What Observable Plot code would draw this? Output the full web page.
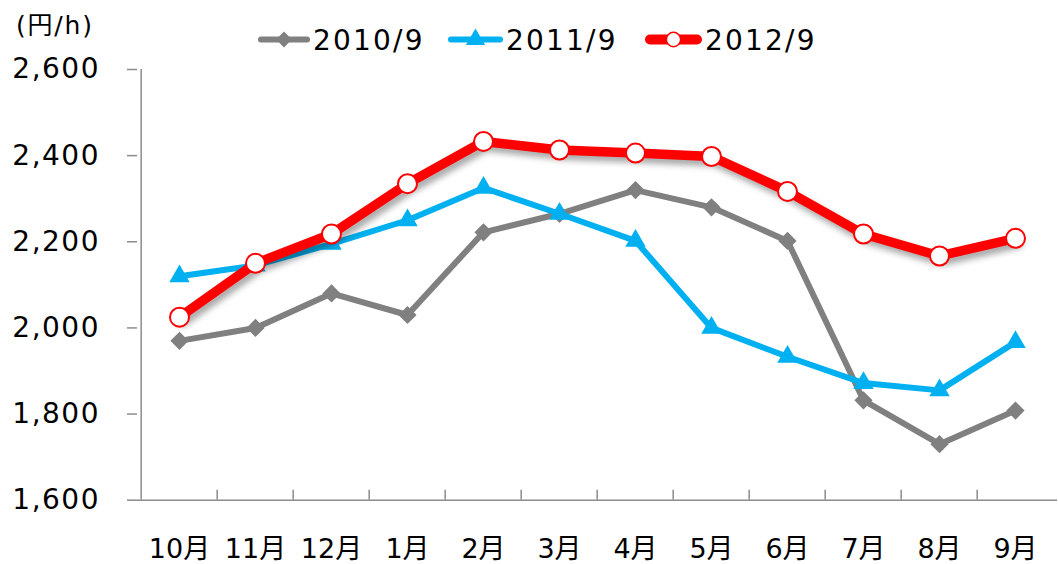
<!DOCTYPE html>
<html><head><meta charset="utf-8">
<script src="https://cdn.jsdelivr.net/npm/d3@7"></script>
<script src="https://cdn.jsdelivr.net/npm/@observablehq/plot@0.6"></script>
<style>
body{margin:0;background:#fff;font-family:"DejaVu Sans","Noto Sans CJK JP",sans-serif;}
#chart svg{display:block;}
</style>
</head><body><div id="chart"></div>
<script>
const months = ["10月","11月","12月","1月","2月","3月","4月","5月","6月","7月","8月","9月"];
const s2010 = [1970,2000,2080,2030,2222,2265,2320,2280,2202,1832,1730,1808];
const s2011 = [2120,2145,2195,2250,2325,2265,2202,2000,1933,1872,1855,1967];
const s2012 = [2025,2150,2218,2335,2433,2413,2406,2398,2317,2218,2167,2208];
const seriesNames = ["2010/9","2011/9","2012/9"];
const yTicks = [1600,1800,2000,2200,2400,2600];
const unitLabel = "(円/h)";

const FONT = '"DejaVu Sans","Noto Sans CJK JP",sans-serif';
const colors = ["#808080","#00B0F0","#FF0000"];
const HEADER = 58;
const W = 1058, H = 564 - HEADER, ML = 137, MR = 1, MT = 69 - HEADER, MB = H - (499.7 - HEADER);
const bw = (W - ML - MR) / months.length;
const rows = (vals, name) => months.map((m, i) => ({month: m, value: vals[i], series: name}));
const d10 = rows(s2010, seriesNames[0]);
const d11 = rows(s2011, seriesNames[1]);
const d12 = rows(s2012, seriesNames[2]);

// Header: unit label + legend
const header = d3.create("svg").attr("width", W).attr("height", HEADER)
  .style("font-family", FONT).style("display", "block");
header.append("text").attr("x", 16).attr("y", 34).attr("font-size", 25)
  .attr("letter-spacing", 1.8).text(unitLabel);
const legendItems = [
  {x0: 258, x1: 310, tx: 313, sw: 6, sym: d3.symbolDiamond2, size: 160, fill: colors[0], stroke: "none"},
  {x0: 448, x1: 503, tx: 506, sw: 6, sym: d3.symbolTriangle, size: 160, fill: colors[1], stroke: "none"},
  {x0: 645, x1: 702, tx: 705, sw: 10, sym: d3.symbolCircle, size: 160, fill: "white", stroke: colors[2]}
];
legendItems.forEach((it, i) => {
  const g = header.append("g");
  const cy = 39.5;
  g.append("line").attr("x1", it.x0 + it.sw/2).attr("x2", it.x1 - it.sw/2).attr("y1", cy).attr("y2", cy)
    .attr("stroke", colors[i]).attr("stroke-width", it.sw).attr("stroke-linecap", "round");
  g.append("path").attr("d", d3.symbol(it.sym, it.size)())
    .attr("transform", `translate(${(it.x0 + it.x1)/2},${cy})`)
    .attr("fill", it.fill).attr("stroke", it.stroke).attr("stroke-width", 1.5);
  g.append("text").attr("x", it.tx).attr("y", 50).attr("font-size", 28)
    .attr("letter-spacing", 2.2).text(seriesNames[i]);
});

const axisColor = "#8c8c8c";
const plot = Plot.plot({
  width: W, height: H,
  marginLeft: ML, marginRight: MR, marginTop: MT, marginBottom: MB,
  style: {fontFamily: FONT, background: "white", overflow: "visible"},
  x: {type: "point", domain: months, padding: 0.5, axis: null},
  y: {domain: [1600, 2600], axis: null},
  marks: [
    Plot.ruleY([1600], {stroke: axisColor, strokeWidth: 1.5}),
    Plot.ruleX([months[0]], {x: d => d, y1: 1600, y2: 2600, dx: -bw/2, stroke: axisColor, strokeWidth: 1.5}),
    Plot.ruleX(months.slice(1), {x: d => d, y1: 1600, y2: 1623, dx: -bw/2, stroke: axisColor, strokeWidth: 1.5}),
    Plot.axisY({ticks: yTicks, tickSize: 10, tickPadding: 27.5, tickFormat: d3.format(","),
      fontSize: 28, stroke: axisColor, strokeWidth: 1.5, fill: "black", label: null}),
    Plot.text(months, {x: d => d, frameAnchor: "bottom", dy: 57.3, lineAnchor: "bottom",
      fontSize: 27, fill: "black", text: d => d}),
    Plot.line(d10, {x: "month", y: "value", stroke: colors[0], strokeWidth: 6, strokeLinejoin: "round"}),
    Plot.dot(d10, {x: "month", y: "value", symbol: "diamond2", r: 8.2, fill: colors[0], stroke: "none"}),
    Plot.line(d11, {x: "month", y: "value", stroke: colors[1], strokeWidth: 6, strokeLinejoin: "round"}),
    Plot.dot(d11, {x: "month", y: "value", symbol: "triangle", r: 7.6, fill: colors[1], stroke: "none"}),
    Plot.line(d12, {x: "month", y: "value", stroke: colors[2], strokeWidth: 9.5, strokeLinejoin: "round"}),
    Plot.dot(d12, {x: "month", y: "value", symbol: "circle", r: 9.5, fill: "white", stroke: colors[2], strokeWidth: 2})
  ]
});
const lines = plot.querySelectorAll('g[aria-label="line"]');
if (lines.length >= 3) lines[2].style.filter = "drop-shadow(3px 5px 3px rgba(0,0,0,0.35))";
plot.querySelectorAll('g[aria-label="y-axis tick label"] text').forEach(t => t.setAttribute("letter-spacing", "1.5"));

const root = document.getElementById("chart");
root.appendChild(header.node());
root.appendChild(plot);
</script>
</body></html>
